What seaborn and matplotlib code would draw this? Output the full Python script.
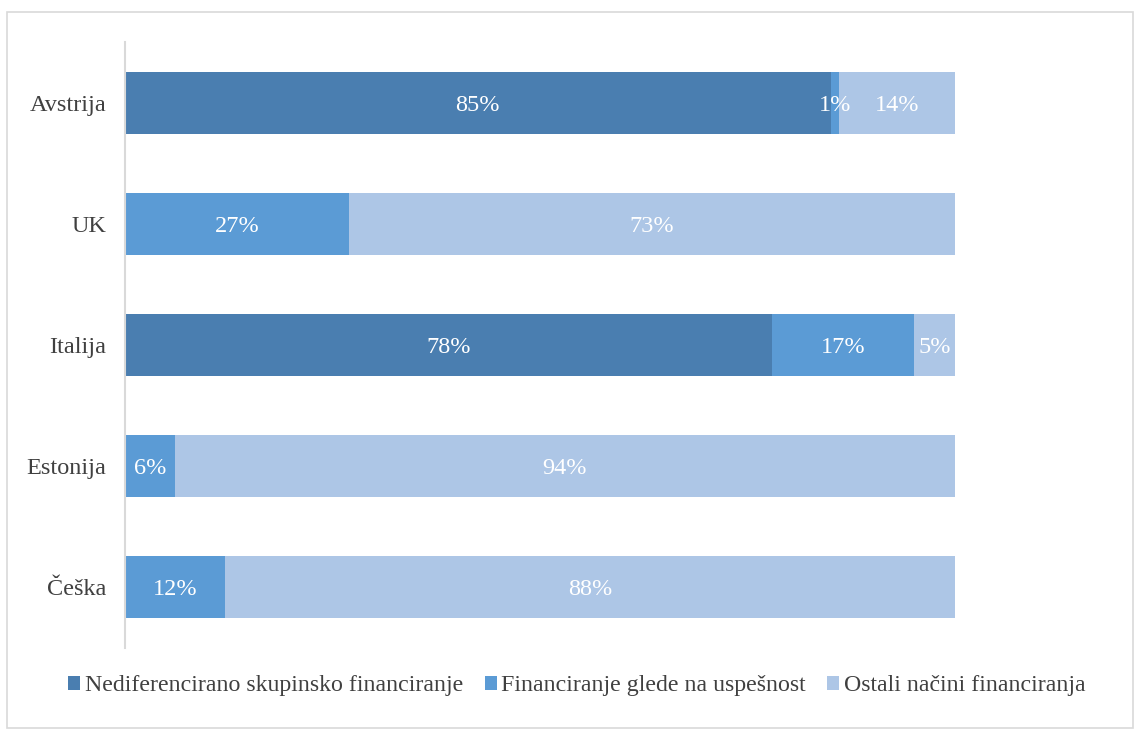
import matplotlib
matplotlib.use("Agg")
import matplotlib.pyplot as plt
from matplotlib.patches import Rectangle, Patch
import numpy as np
import pandas as pd
import seaborn as sns

countries = ["Avstrija", "UK", "Italija", "Estonija", "Češka"]
series_names = ["Nediferencirano skupinsko financiranje",
                "Financiranje glede na uspešnost",
                "Ostali načini financiranja"]
nedif = [85, 0, 78, 0, 0]
uspesnost = [1, 27, 17, 6, 12]
ostali = [14, 73, 5, 94, 88]
colors = ["#4a7eb0", "#5b9bd5", "#adc6e6"]

sns.set_theme(style="white")
plt.rcParams["font.family"] = ["Liberation Serif", "DejaVu Serif"]

FS = 17.5

fig = plt.figure(figsize=(11.38, 7.29), dpi=100)
ax = fig.add_axes([125 / 1138, 1 - 648 / 729, 830 / 1138, 606 / 729])

values = np.array([nedif, uspesnost, ostali], dtype=float)
cum = np.cumsum(values, axis=0)

# draw stacked layers from the outermost (total) inward
for i in range(2, -1, -1):
    df = pd.DataFrame({"country": countries, "end": cum[i]})
    sns.barplot(data=df, x="end", y="country", color=colors[i], saturation=1,
                width=0.51, orient="h", ax=ax, edgecolor="none", linewidth=0)

for i in range(3):
    starts = cum[i] - values[i]
    for j, v in enumerate(values[i]):
        if v > 0:
            ax.text(starts[j] + v / 2, j, f"{int(v)}%", ha="center",
                    va="center_baseline", color="white", fontsize=FS)

ax.set_xlim(0, 100)
ax.set_ylim(4.5, -0.5)
ax.set_xlabel("")
ax.set_ylabel("")
ax.set_xticks([])
ax.tick_params(axis="y", length=0, pad=13.5, labelsize=FS, labelcolor="#404040")
for lbl in ax.get_yticklabels():
    lbl.set_verticalalignment("center_baseline")
for side in ["top", "right", "bottom"]:
    ax.spines[side].set_visible(False)
ax.spines["left"].set_color("#d9d9d9")
ax.spines["left"].set_linewidth(1.5)

handles = [Patch(facecolor=c, edgecolor="none") for c in colors]
fig.legend(handles, series_names, loc="center", bbox_to_anchor=(577 / 1138, 1 - 686 / 729),
           ncol=3, frameon=False, fontsize=17.2, handlelength=0.5, handleheight=0.5,
           handletextpad=0.2, columnspacing=0.9, labelcolor="#404040")

fig.patches.append(Rectangle((7 / 1138, 1 - 728 / 729), 1126 / 1138, 716 / 729,
                             transform=fig.transFigure, fill=False,
                             edgecolor="#d9d9d9", linewidth=1.2))

fig.savefig("out.png", dpi=100)
